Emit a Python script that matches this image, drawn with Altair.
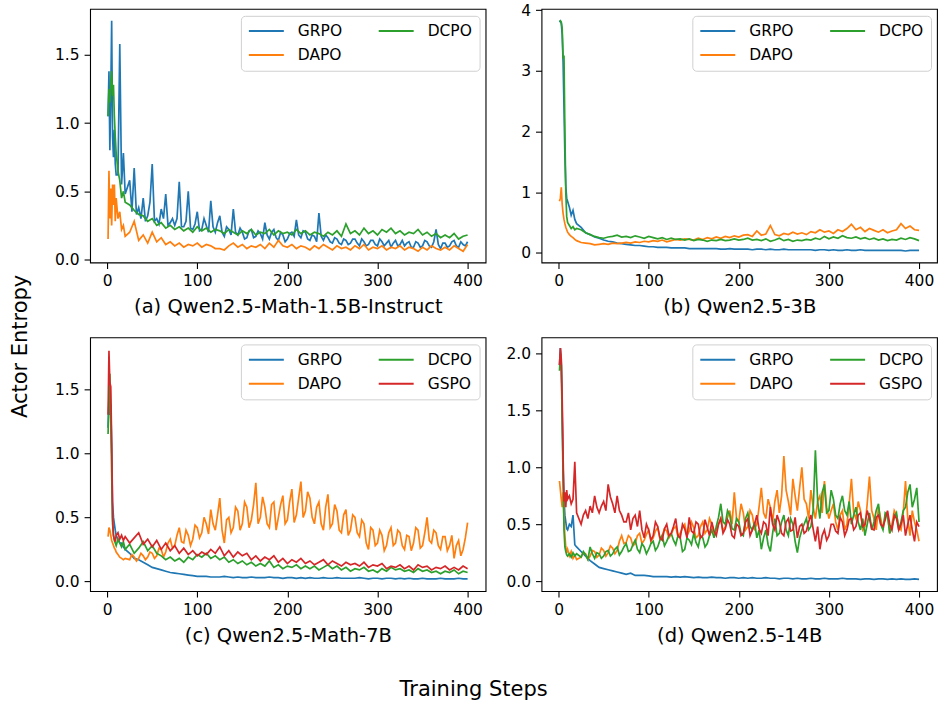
import altair as alt
import pandas as pd

STEPS = list(range(1, 11)) + list(range(12, 21, 2)) + list(range(25, 401, 5))
MID_STEPS = [s + 2.5 for s in range(25, 400, 5)]

# ---- (a) Qwen2.5-Math-1.5B-Instruct ----
A_GRPO = [1.05, 1.38, 0.80, 1.20, 1.75, 0.90, 0.75, 0.95, 0.70, 0.62,
          0.62, 1.58, 0.55, 0.78, 0.48,
          0.58, 0.67, 0.38, 0.45, 0.32, 0.70, 0.30, 0.37, 0.48, 0.27,
          0.25, 0.57, 0.24, 0.50, 0.22, 0.35, 0.22, 0.25, 0.43, 0.20,
          0.32, 0.17, 0.22, 0.37, 0.18, 0.20, 0.16, 0.22, 0.17, 0.19,
          0.27, 0.15, 0.22, 0.14, 0.18, 0.15, 0.20, 0.29, 0.16, 0.20,
          0.14, 0.17, 0.34, 0.14, 0.16, 0.12, 0.15, 0.11, 0.14, 0.12,
          0.15, 0.10, 0.13, 0.11, 0.14, 0.10, 0.13, 0.12, 0.09, 0.14,
          0.11, 0.10, 0.13, 0.09, 0.12, 0.10, 0.13, 0.09, 0.22, 0.08,
          0.12, 0.10, 0.14, 0.09, 0.11, 0.13]
A_GRPO_MID = [0.35, 0.33, 0.30, 0.28, 0.42, 0.28, 0.26, 0.30, 0.25, 0.30,
              0.30, 0.24, 0.28, 0.23, 0.26, 0.21, 0.30, 0.20, 0.24, 0.27,
              0.20, 0.24, 0.18, 0.20, 0.23, 0.15, 0.21, 0.16, 0.21, 0.15,
              0.18, 0.20, 0.16, 0.20, 0.13, 0.19, 0.17, 0.18, 0.21, 0.15,
              0.18, 0.13, 0.17, 0.18, 0.13, 0.16, 0.12, 0.15, 0.11, 0.15,
              0.12, 0.15, 0.10, 0.14, 0.11, 0.15, 0.10, 0.14, 0.12, 0.10,
              0.14, 0.12, 0.09, 0.13, 0.09, 0.14, 0.10, 0.13, 0.11, 0.12,
              0.09, 0.13, 0.10, 0.13, 0.10]
A_DAPO = [0.15, 0.65, 0.30, 0.52, 0.25, 0.55, 0.40, 0.55, 0.28, 0.45,
          0.30, 0.35, 0.22, 0.25, 0.17,
          0.20, 0.28, 0.14, 0.18, 0.12, 0.20, 0.13, 0.16, 0.11, 0.13,
          0.10, 0.12, 0.09, 0.11, 0.10, 0.12, 0.09, 0.11, 0.10, 0.08,
          0.08, 0.07, 0.10, 0.12, 0.09, 0.11, 0.08, 0.10, 0.09, 0.11,
          0.08, 0.12, 0.09, 0.14, 0.10, 0.09, 0.11, 0.08, 0.10, 0.09,
          0.07, 0.10, 0.08, 0.11, 0.09, 0.07, 0.10, 0.08, 0.09, 0.07,
          0.10, 0.08, 0.11, 0.07, 0.09, 0.08, 0.10, 0.07, 0.09, 0.08,
          0.10, 0.07, 0.09, 0.08, 0.06, 0.09, 0.07, 0.10, 0.08, 0.07,
          0.09, 0.07, 0.10, 0.08, 0.06, 0.11]
A_DCPO = [1.05, 1.25, 1.15, 1.30, 1.38, 1.20, 1.28, 1.05, 0.90, 0.78,
          0.65, 0.58, 0.45, 0.50, 0.42,
          0.40, 0.36, 0.33, 0.32, 0.28, 0.30, 0.25, 0.27, 0.23, 0.25,
          0.22, 0.24, 0.21, 0.23, 0.20, 0.24, 0.21, 0.23, 0.20, 0.22,
          0.21, 0.19, 0.22, 0.20, 0.18, 0.21, 0.19, 0.22, 0.18, 0.20,
          0.19, 0.22, 0.18, 0.21, 0.19, 0.20, 0.18, 0.22, 0.19, 0.21,
          0.18, 0.20, 0.19, 0.17, 0.20, 0.18, 0.21, 0.17, 0.26, 0.19,
          0.21, 0.18, 0.23, 0.19, 0.21, 0.18, 0.22, 0.20, 0.23, 0.19,
          0.21, 0.18, 0.20, 0.19, 0.22, 0.18, 0.20, 0.17, 0.19, 0.16,
          0.18, 0.16, 0.19, 0.15, 0.17, 0.18]

# ---- (b) Qwen2.5-3B ----
B_GRPO = [3.80, 3.82, 3.78, 3.60, 3.15, 2.40, 1.60, 1.10, 0.90, 0.85,
          0.75, 0.62, 0.70, 0.55, 0.48,
          0.42, 0.33, 0.30, 0.26, 0.24, 0.21, 0.19, 0.18, 0.16, 0.15,
          0.14, 0.13, 0.12, 0.12, 0.11, 0.10, 0.10, 0.09, 0.09, 0.09,
          0.08, 0.08, 0.08, 0.08, 0.07, 0.07, 0.07, 0.07, 0.07, 0.07,
          0.07, 0.06, 0.06, 0.07, 0.06, 0.06, 0.06, 0.06, 0.05, 0.06,
          0.06, 0.05, 0.06, 0.05, 0.05, 0.06, 0.05, 0.05, 0.05, 0.05,
          0.05, 0.05, 0.04, 0.05, 0.05, 0.04, 0.05, 0.04, 0.04, 0.05,
          0.04, 0.04, 0.05, 0.04, 0.04, 0.04, 0.04, 0.04, 0.04, 0.04,
          0.04, 0.04, 0.03, 0.04, 0.04, 0.04]
B_DAPO = [0.85, 0.90, 1.08, 0.80, 0.65, 0.55, 0.48, 0.42, 0.38, 0.34,
          0.30, 0.27, 0.25, 0.22, 0.20,
          0.17, 0.16, 0.15, 0.13, 0.14, 0.15, 0.14, 0.16, 0.15, 0.16,
          0.17, 0.16, 0.18, 0.17, 0.19, 0.18, 0.20, 0.19, 0.21, 0.18,
          0.20, 0.22, 0.21, 0.23, 0.22, 0.21, 0.24, 0.22, 0.25, 0.23,
          0.26, 0.24, 0.27, 0.25, 0.28, 0.26, 0.29, 0.30, 0.27, 0.36,
          0.29, 0.31, 0.45, 0.30, 0.28, 0.32, 0.30, 0.34, 0.31, 0.33,
          0.30, 0.35, 0.33, 0.38, 0.34, 0.36, 0.32, 0.38, 0.35, 0.40,
          0.47, 0.38, 0.42, 0.35, 0.40, 0.37, 0.34, 0.38, 0.33, 0.36,
          0.38, 0.48, 0.40, 0.44, 0.38, 0.37]
B_DCPO = [3.82, 3.82, 3.80, 3.70, 3.20, 3.25, 2.00, 1.00, 0.60, 0.50,
          0.45, 0.40, 0.43, 0.38, 0.40,
          0.38, 0.33, 0.30, 0.27, 0.25, 0.24, 0.26, 0.27, 0.29, 0.26,
          0.27, 0.25, 0.28, 0.26, 0.24, 0.27, 0.25, 0.23, 0.25, 0.22,
          0.24, 0.22, 0.23, 0.21, 0.23, 0.20, 0.22, 0.21, 0.19, 0.21,
          0.20, 0.22, 0.20, 0.21, 0.23, 0.21, 0.22, 0.24, 0.21, 0.22,
          0.20, 0.23, 0.19, 0.21, 0.24, 0.20, 0.22, 0.19, 0.21, 0.20,
          0.22, 0.21, 0.24, 0.22, 0.27, 0.23, 0.26, 0.24, 0.28, 0.25,
          0.24, 0.26, 0.23, 0.25, 0.22, 0.24, 0.21, 0.23, 0.20, 0.22,
          0.21, 0.24, 0.22, 0.25, 0.23, 0.20]

# ---- (c) Qwen2.5-Math-7B ----
C_GRPO = [1.20, 1.45, 1.30, 1.38, 1.05, 0.62, 0.50, 0.45, 0.40, 0.36,
          0.33, 0.30, 0.30, 0.27, 0.25,
          0.22, 0.18, 0.17, 0.15, 0.13, 0.11, 0.10, 0.09, 0.08, 0.07,
          0.065, 0.06, 0.055, 0.05, 0.045, 0.04, 0.04, 0.04, 0.035, 0.035,
          0.035, 0.04, 0.035, 0.03, 0.035, 0.03, 0.03, 0.035, 0.03, 0.03,
          0.03, 0.035, 0.03, 0.03, 0.025, 0.03, 0.03, 0.025, 0.03, 0.025,
          0.03, 0.025, 0.025, 0.03, 0.025, 0.025, 0.03, 0.025, 0.025, 0.025,
          0.025, 0.03, 0.025, 0.02, 0.025, 0.025, 0.02, 0.025, 0.025, 0.02,
          0.025, 0.02, 0.025, 0.02, 0.02, 0.025, 0.02, 0.02, 0.02, 0.025,
          0.02, 0.02, 0.02, 0.025, 0.02, 0.02]
C_DAPO = [0.35, 0.42, 0.40, 0.36, 0.32, 0.30, 0.28, 0.26, 0.25, 0.23,
          0.21, 0.19, 0.18, 0.17, 0.18,
          0.17, 0.19, 0.18, 0.20, 0.19, 0.22, 0.20, 0.25, 0.23, 0.33,
          0.28, 0.42, 0.30, 0.36, 0.33, 0.42, 0.38, 0.45, 0.56, 0.40,
          0.65, 0.30, 0.50, 0.42, 0.55, 0.45, 0.58, 0.48, 0.77, 0.50,
          0.58, 0.42, 0.62, 0.50, 0.67, 0.48, 0.72, 0.52, 0.78, 0.55,
          0.65, 0.45, 0.62, 0.40, 0.68, 0.45, 0.55, 0.38, 0.56, 0.40,
          0.50, 0.35, 0.45, 0.25, 0.40, 0.30, 0.36, 0.28, 0.42, 0.30,
          0.38, 0.25, 0.35, 0.30, 0.40, 0.28, 0.50, 0.30, 0.38, 0.25,
          0.35, 0.28, 0.18, 0.32, 0.25, 0.46]
C_DAPO_MID = [0.21, 0.16, 0.22, 0.17, 0.23, 0.18, 0.26, 0.19, 0.30, 0.26,
              0.36, 0.31, 0.40, 0.28, 0.44, 0.34, 0.50, 0.37, 0.45, 0.52,
              0.40, 0.48, 0.38, 0.58, 0.40, 0.62, 0.42, 0.60, 0.45, 0.66,
              0.45, 0.60, 0.40, 0.60, 0.45, 0.62, 0.46, 0.65, 0.50, 0.70,
              0.50, 0.58, 0.45, 0.58, 0.42, 0.60, 0.40, 0.52, 0.36, 0.52,
              0.38, 0.48, 0.30, 0.42, 0.28, 0.40, 0.24, 0.38, 0.28, 0.40,
              0.28, 0.36, 0.24, 0.42, 0.26, 0.38, 0.32, 0.40, 0.28, 0.35,
              0.24, 0.36, 0.28, 0.20, 0.34]
C_DCPO = [1.15, 1.40, 1.62, 1.30, 0.85, 0.45, 0.36, 0.32, 0.30, 0.28,
          0.33, 0.30, 0.27, 0.31, 0.25,
          0.29, 0.22, 0.26, 0.31, 0.24, 0.28, 0.22, 0.20, 0.17, 0.19,
          0.16, 0.18, 0.15, 0.19, 0.17, 0.21, 0.19, 0.22, 0.18, 0.20,
          0.17, 0.19, 0.15, 0.17, 0.14, 0.16, 0.13, 0.15, 0.12, 0.14,
          0.12, 0.16, 0.11, 0.13, 0.10, 0.12, 0.11, 0.13, 0.10, 0.12,
          0.10, 0.12, 0.09, 0.11, 0.13, 0.10, 0.12, 0.09, 0.11, 0.08,
          0.10, 0.09, 0.11, 0.08, 0.09, 0.07, 0.10, 0.08, 0.11, 0.09,
          0.10, 0.08, 0.09, 0.07, 0.10, 0.08, 0.09, 0.07, 0.08, 0.06,
          0.08, 0.07, 0.09, 0.06, 0.08, 0.07]
C_GSPO = [1.30, 1.80, 1.55, 1.52, 1.10, 0.50, 0.36, 0.33, 0.31, 0.36,
          0.38, 0.33, 0.36, 0.32, 0.35,
          0.30, 0.34, 0.38, 0.29, 0.33, 0.27, 0.32, 0.25, 0.30, 0.24,
          0.28, 0.22, 0.26, 0.21, 0.24, 0.20, 0.23, 0.21, 0.25, 0.22,
          0.27, 0.20, 0.24, 0.19, 0.23, 0.20, 0.22, 0.17, 0.20, 0.16,
          0.19, 0.17, 0.20, 0.15, 0.18, 0.14, 0.17, 0.15, 0.18, 0.14,
          0.16, 0.13, 0.15, 0.17, 0.13, 0.16, 0.14, 0.12, 0.15, 0.13,
          0.14, 0.12, 0.15, 0.11, 0.13, 0.12, 0.14, 0.10, 0.12, 0.11,
          0.13, 0.10, 0.12, 0.09, 0.13, 0.11, 0.12, 0.09, 0.11, 0.10,
          0.12, 0.09, 0.11, 0.09, 0.12, 0.10]

# ---- (d) Qwen2.5-14B ----
D_GRPO = [1.90, 2.05, 1.92, 1.50, 1.00, 0.72, 0.58, 0.52, 0.46, 0.45,
          0.50, 0.48, 0.58, 0.32, 0.30,
          0.26, 0.22, 0.18, 0.15, 0.12, 0.11, 0.10, 0.09, 0.08, 0.07,
          0.06, 0.07, 0.05, 0.05, 0.05, 0.045, 0.04, 0.04, 0.04, 0.04,
          0.035, 0.04, 0.035, 0.04, 0.035, 0.03, 0.035, 0.03, 0.03, 0.035,
          0.03, 0.03, 0.025, 0.03, 0.03, 0.025, 0.03, 0.025, 0.03, 0.025,
          0.025, 0.03, 0.025, 0.025, 0.02, 0.025, 0.025, 0.02, 0.025, 0.02,
          0.02, 0.025, 0.02, 0.02, 0.025, 0.02, 0.02, 0.02, 0.025, 0.02,
          0.02, 0.02, 0.015, 0.02, 0.02, 0.015, 0.02, 0.02, 0.015, 0.02,
          0.015, 0.02, 0.015, 0.015, 0.02, 0.015]
D_DAPO = [0.88, 0.80, 0.72, 0.65, 0.78, 0.55, 0.40, 0.30, 0.25, 0.28,
          0.22, 0.26, 0.20, 0.23, 0.19,
          0.21, 0.24, 0.22, 0.26, 0.23, 0.27, 0.25, 0.29, 0.27, 0.40,
          0.34, 0.38, 0.33, 0.42, 0.36, 0.45, 0.38, 0.47, 0.40, 0.44,
          0.41, 0.48, 0.42, 0.50, 0.44, 0.47, 0.40, 0.52, 0.45, 0.50,
          0.45, 0.55, 0.48, 0.62, 0.78, 0.52, 0.60, 0.48, 0.58, 0.50,
          0.82, 0.55, 0.65, 0.70, 0.60, 1.10, 0.70, 0.90, 0.62, 1.00,
          0.68, 0.80, 0.55, 0.75, 0.88, 0.55, 0.68, 0.45, 0.62, 0.50,
          0.90, 0.55, 0.62, 0.48, 0.92, 0.55, 0.65, 0.45, 0.60, 0.50,
          0.58, 0.45, 0.88, 0.40, 0.52, 0.35]
D_DAPO_MID = [0.25, 0.19, 0.27, 0.21, 0.29, 0.22, 0.31, 0.24, 0.35, 0.33,
              0.40, 0.31, 0.40, 0.33, 0.41, 0.35, 0.44, 0.37, 0.46, 0.38,
              0.46, 0.39, 0.47, 0.40, 0.52, 0.38, 0.48, 0.42, 0.55, 0.42,
              0.50, 0.44, 0.56, 0.50, 0.55, 0.68, 0.45, 0.62, 0.46, 0.65,
              0.60, 0.72, 0.52, 0.80, 0.75, 0.80, 0.58, 0.75, 0.82, 0.72,
              0.55, 0.65, 0.70, 0.60, 0.65, 0.62, 0.52, 0.58, 0.45, 0.68,
              0.60, 0.70, 0.45, 0.68, 0.62, 0.45, 0.55, 0.58, 0.42, 0.62,
              0.48, 0.60, 0.55, 0.62, 0.45]
D_DCPO = [1.85, 2.00, 1.90, 1.40, 0.90, 0.45, 0.30, 0.26, 0.23, 0.22,
          0.24, 0.21, 0.25, 0.22, 0.24,
          0.21, 0.23, 0.30, 0.20, 0.24, 0.22, 0.27, 0.24, 0.30, 0.26,
          0.33, 0.27, 0.36, 0.25, 0.30, 0.28, 0.35, 0.30, 0.40, 0.35,
          0.42, 0.32, 0.38, 0.28, 0.36, 0.42, 0.30, 0.38, 0.33, 0.45,
          0.48, 0.68, 0.50, 0.58, 0.45, 0.52, 0.40, 0.60, 0.45, 0.38,
          0.28, 0.45, 0.26, 0.55, 0.42, 0.58, 0.40, 0.50, 0.25, 0.45,
          0.55, 0.48, 1.15, 0.55, 0.85, 0.62, 0.72, 0.55, 0.75, 0.58,
          0.50, 0.65, 0.45, 0.40, 0.60, 0.52, 0.68, 0.45, 0.58, 0.48,
          0.60, 0.52, 0.65, 0.85, 0.72, 0.52]
D_DCPO_MID = [0.26, 0.19, 0.24, 0.25, 0.20, 0.26, 0.22, 0.28, 0.23, 0.30,
              0.26, 0.32, 0.28, 0.33, 0.24, 0.33, 0.27, 0.36, 0.31, 0.40,
              0.36, 0.40, 0.26, 0.38, 0.32, 0.34, 0.40, 0.30, 0.40, 0.38,
              0.56, 0.52, 0.62, 0.46, 0.55, 0.42, 0.55, 0.48, 0.52, 0.45,
              0.38, 0.32, 0.42, 0.40, 0.52, 0.45, 0.55, 0.35, 0.38, 0.50,
              0.45, 0.62, 0.70, 0.78, 0.60, 0.80, 0.58, 0.68, 0.62, 0.70,
              0.58, 0.52, 0.55, 0.50, 0.45, 0.62, 0.50, 0.60, 0.42, 0.56,
              0.45, 0.62, 0.78, 0.65, 0.82]
D_GSPO = [1.90, 2.05, 1.95, 1.60, 1.10, 0.70, 0.78, 0.65, 0.80, 0.72,
          0.75, 0.68, 0.72, 1.05, 0.60,
          0.50, 0.62, 0.66, 0.75, 0.60, 0.70, 0.85, 0.68, 0.75, 0.58,
          0.52, 0.45, 0.58, 0.62, 0.38, 0.45, 0.40, 0.48, 0.36, 0.50,
          0.42, 0.55, 0.38, 0.46, 0.56, 0.42, 0.50, 0.40, 0.47, 0.52,
          0.40, 0.55, 0.46, 0.50, 0.38, 0.48, 0.42, 0.55, 0.45, 0.58,
          0.42, 0.50, 0.65, 0.45, 0.52, 0.40, 0.55, 0.45, 0.38, 0.50,
          0.44, 0.58, 0.35, 0.28, 0.45, 0.40, 0.50, 0.42, 0.52, 0.45,
          0.55, 0.48, 0.60, 0.50, 0.55, 0.45, 0.58, 0.48, 0.62, 0.45,
          0.55, 0.50, 0.40, 0.58, 0.35, 0.48]
D_GSPO_MID = [0.58, 0.55, 0.60, 0.65, 0.66, 0.62, 0.74, 0.60, 0.62, 0.52,
              0.60, 0.55, 0.48, 0.45, 0.50, 0.36, 0.52, 0.38, 0.46, 0.40,
              0.48, 0.40, 0.50, 0.38, 0.44, 0.52, 0.38, 0.54, 0.40, 0.44,
              0.50, 0.42, 0.54, 0.40, 0.50, 0.40, 0.52, 0.40, 0.50, 0.46,
              0.52, 0.40, 0.50, 0.58, 0.42, 0.52, 0.44, 0.56, 0.48, 0.42,
              0.52, 0.46, 0.48, 0.40, 0.36, 0.50, 0.44, 0.56, 0.40, 0.54,
              0.45, 0.58, 0.48, 0.62, 0.46, 0.56, 0.50, 0.54, 0.50, 0.58,
              0.45, 0.58, 0.50, 0.45, 0.52]

X_TICKS = [0, 100, 200, 300, 400]
COLORS = {"GRPO": "#1f77b4", "DAPO": "#ff7f0e", "DCPO": "#2ca02c", "GSPO": "#d62728"}
LEGEND_ORDER = ["GRPO", "DAPO", "DCPO", "GSPO"]
FONT = "DejaVu Sans"
W, H = 396, 254


def panel(title, series, ydomain, yticks, yfmt, extra=None):
    names = list(series.keys())
    order = [n for n in LEGEND_ORDER if n in names]
    rows = []
    for n, (vals, mid) in series.items():
        assert len(vals) == len(STEPS), (title, n, len(vals))
        rows += [{"step": s, "value": v, "method": n} for s, v in zip(STEPS, vals)]
        if mid is not None:
            assert len(mid) == len(MID_STEPS), (title, n, len(mid))
            rows += [{"step": s, "value": v, "method": n} for s, v in zip(MID_STEPS, mid)]
    df = pd.DataFrame(rows).sort_values(["method", "step"])
    legend = alt.Legend(
        title=None, orient="none", legendX=151, legendY=7, columns=2,
        columnPadding=35, rowPadding=7.3, clipHeight=16, padding=7,
        cornerRadius=4, strokeColor="#d0d0d0", fillColor="rgba(255,255,255,0.8)",
        symbolType="stroke", symbolSize=1225, symbolStrokeWidth=2,
        labelFont=FONT, labelFontSize=15.5, labelColor="black", labelOffset=13,
    )
    color = alt.Color("method:N", scale=alt.Scale(domain=order, range=[COLORS[n] for n in order]),
                      legend=legend)
    x = alt.X("step:Q", scale=alt.Scale(domain=[-18.95, 419.95], nice=False, zero=False),
              axis=alt.Axis(values=X_TICKS, format="d", title=title, titleY=50.5,
                            titleBaseline="alphabetic"))
    y = alt.Y("value:Q", scale=alt.Scale(domain=ydomain, nice=False, zero=False),
              axis=alt.Axis(values=yticks, format=yfmt, title=None))
    layers = []
    for n in names:
        layers.append(
            alt.Chart(df).transform_filter(alt.datum.method == n)
            .mark_line(strokeWidth=1.7, clip=True)
            .encode(x=x, y=y, color=color)
        )
    if extra:
        layers += extra
    return alt.layer(*layers).properties(width=W, height=H)


ylab = alt.Chart(pd.DataFrame({"t": ["Actor Entropy"]})).mark_text(
    angle=270, align="center", baseline="alphabetic", font=FONT, fontSize=21, color="black"
).encode(x=alt.value(-63), y=alt.value(338), text="t:N")

xlab = alt.Chart(pd.DataFrame({"t": ["Training Steps"]})).mark_text(
    align="center", baseline="alphabetic", font=FONT, fontSize=21, color="black"
).encode(x=alt.value(384), y=alt.value(359), text="t:N")

pa = panel("(a) Qwen2.5-Math-1.5B-Instruct",
           {"GRPO": (A_GRPO, A_GRPO_MID), "DAPO": (A_DAPO, None), "DCPO": (A_DCPO, None)},
           [-0.022, 1.837], [0, 0.5, 1.0, 1.5], ".1f", extra=[ylab])
pb = panel("(b) Qwen2.5-3B",
           {"GRPO": (B_GRPO, None), "DAPO": (B_DAPO, None), "DCPO": (B_DCPO, None)},
           [-0.16, 4.02], [0, 1, 2, 3, 4], "d")
pc = panel("(c) Qwen2.5-Math-7B",
           {"GRPO": (C_GRPO, None), "DAPO": (C_DAPO, C_DAPO_MID),
            "DCPO": (C_DCPO, None), "GSPO": (C_GSPO, None)},
           [-0.075, 1.904], [0, 0.5, 1.0, 1.5], ".1f", extra=[xlab])
pd_ = panel("(d) Qwen2.5-14B",
            {"GRPO": (D_GRPO, None), "DAPO": (D_DAPO, D_DAPO_MID),
             "DCPO": (D_DCPO, D_DCPO_MID), "GSPO": (D_GSPO, D_GSPO_MID)},
            [-0.088, 2.143], [0, 0.5, 1.0, 1.5, 2.0], ".1f")

chart = (
    alt.concat(pa, pb, pc, pd_, columns=2, spacing={"row": 75, "column": 56}, bounds="flush")
    .resolve_scale(color="independent")
    .properties(padding={"left": 9.2, "top": 1.4, "right": 0, "bottom": 0}, background="white")
    .configure_view(stroke="black", strokeWidth=1.1)
    .configure_axis(
        labelFont=FONT, labelFontSize=15.5, labelColor="black", labelPadding=5,
        tickColor="black", tickSize=6, tickWidth=1.1, domain=False, grid=False,
        titleFont=FONT, titleFontSize=19.5, titleColor="black", titleFontWeight="normal",
        labelFlush=False,
    )
)

chart.save("out.html", embed_options={"renderer": "svg", "actions": False})
